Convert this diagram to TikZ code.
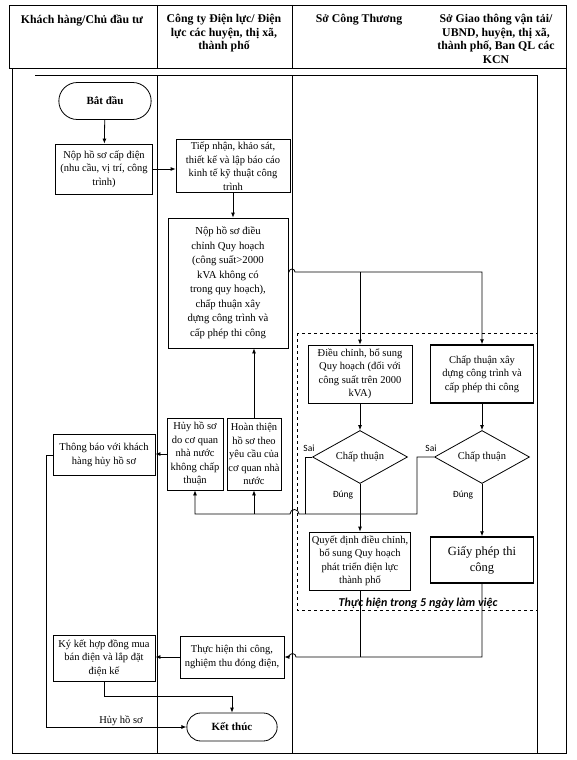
\documentclass[tikz,border=0pt]{standalone}
\usepackage{fontspec}
\setmainfont{Liberation Serif}
\newfontfamily\calib{Carlito}
\usetikzlibrary{arrows.meta,shapes.geometric,shapes.misc}
\tikzset{/DL/box/.style={
	draw, line width=0.8pt, align=center, inner sep=1pt, font=\fontsize{10.5}{13.5}\selectfont
}}
\tikzset{/DL/heavy/.style={
	line width=1.5pt
}}
\tikzset{/DL/term/.style={
	draw, line width=0.8pt, shape=rounded rectangle, minimum width=99pt, minimum height=37pt, font=\bfseries\fontsize{11}{13}\selectfont
}}
\tikzset{/DL/ask/.style={
	draw, line width=0.8pt, shape=diamond, aspect=1.8, inner sep=0pt, minimum width=95pt, minimum height=53pt, font=\fontsize{10.5}{12}\selectfont
}}
\tikzset{/DL/head/.style={
	align=center, anchor=north, font=\bfseries\fontsize{11.8}{13.5}\selectfont
}}
\tikzset{/DL/note/.style={
	font=\calib\fontsize{9.5}{11}\selectfont, inner sep=1pt
}}
\tikzset{/DL/line/.style={
	line width=0.8pt
}}
\tikzset{/DL/flow/.style={
	line width=0.8pt, -{Latex[length=5pt,width=4pt]}
}}

\begin{document}
\begin{tikzpicture}[x=1pt, y=-1pt]
			\useasboundingbox (0,0) rectangle (576,760);
			\draw[/DL/line] (9,5) rectangle (566,68);
			\draw[/DL/line] (157,5) -- (157,68) (292,5) -- (292,68);
			\draw[/DL/line] (12,68) rectangle (566,753);
			\draw[/DL/line] (35,75) -- (537,75) -- (537,753);
			\draw[/DL/line] (157,75) -- (157,753) (292,75) -- (292,753);
			\draw[dashed, line width=0.7pt] (297,333) rectangle (537,610);
			\path (82,11) node[/DL/head] (h1) {Khách hàng/Chủ đầu tư};
			\path (224,11) node[/DL/head] (h2) {Công ty Điện lực/ Điện\\lực các huyện, thị xã,\\thành phố};
			\path (359,11) node[/DL/head] (h3) {Sở Công Thương};
			\path (496,11) node[/DL/head] (h4) {Sở Giao thông vận tải/\\UBND, huyện, thị xã,\\thành phố, Ban QL các\\KCN};
			\path (105,101) node[/DL/term] (start) {Bắt đầu};
			\path (104,169) node[/DL/box, minimum width=97pt, minimum height=50pt] (apply) {Nộp hồ sơ cấp điện\\(nhu cầu, vị trí, công\\trình)};
			\path (233,166) node[/DL/box, minimum width=114pt, minimum height=53pt] (survey) {Tiếp nhận, khảo sát,\\thiết kế và lập báo cáo\\kinh tế kỹ thuật công\\trình};
			\path (228,283) node[/DL/box, minimum width=120pt, minimum height=130pt, font=\fontsize{10.7}{14.5}\selectfont] (dossier) {Nộp hồ sơ điều\\chỉnh Quy hoạch\\(công suất>2000\\kVA không có\\trong quy hoạch),\\chấp thuận xây\\dựng công trình và\\cấp phép thi công};
			\path (360,374) node[/DL/box, minimum width=104pt, minimum height=58pt] (adjust) {Điều chỉnh, bổ sung\\Quy hoạch (đối với\\công suất trên 2000\\kVA)};
			\path (482,374) node[/DL/box, /DL/heavy, minimum width=103pt, minimum height=58pt] (permit) {Chấp thuận xây\\dựng công trình và\\cấp phép thi công};
			\path (360,457) node[/DL/ask] (ok1) {Chấp thuận};
			\path (482,457) node[/DL/ask] (ok2) {Chấp thuận};
			\path (360,561) node[/DL/box, minimum width=101pt, minimum height=58pt] (decide) {Quyết định điều chỉnh,\\bổ sung Quy hoạch\\phát triển điện lực\\thành phố};
			\path (482,560) node[/DL/box, /DL/heavy, minimum width=103pt, minimum height=46pt, font=\fontsize{12.5}{16}\selectfont] (licence) {Giấy phép thi\\công};
			\path (195,454) node[/DL/box, minimum width=56pt, minimum height=72pt] (reject) {Hủy hồ sơ\\do cơ quan\\nhà nước\\không chấp\\thuận};
			\path (254,454) node[/DL/box, minimum width=54pt, minimum height=72pt] (amend) {Hoàn thiện\\hồ sơ theo\\yêu cầu của\\cơ quan nhà\\nước};
			\path (104,455) node[/DL/box, minimum width=102pt, minimum height=41pt] (notify) {Thông báo với khách\\hàng hủy hồ sơ};
			\path (232,657) node[/DL/box, minimum width=104pt, minimum height=42pt] (build) {Thực hiện thi công,\\nghiệm thu đóng điện,};
			\path (104,658) node[/DL/box, minimum width=102pt, minimum height=46pt] (sign) {Ký kết hợp đồng mua\\bán điện và lắp đặt\\điện kế};
			\path (232,727) node[/DL/term, minimum width=97pt, minimum height=28pt] (finish) {Kết thúc};
			\path (309,448) node[/DL/note] (no1) {Sai};
			\path (431,448) node[/DL/note] (no2) {Sai};
			\path (343,495) node[/DL/note] (yes1) {Đúng};
			\path (463,495) node[/DL/note] (yes2) {Đúng};
			\path (418,603) node[font=\calib\bfseries\itshape\fontsize{12}{14}\selectfont] (limit) {Thực hiện trong 5 ngày làm việc};
			\path (121,721) node[font=\fontsize{10.5}{12}\selectfont] (cancel) {Hủy hồ sơ};
			\draw[/DL/flow] (start) -- (apply);
			\draw[/DL/flow] (apply.east) -- (apply.east -| survey.west);
			\draw[/DL/flow] (survey.south) -- (survey.south |- dossier.north);
			\draw[/DL/flow] ([yshift=11pt]dossier.east) -- (289,272) arc[start angle=180, end angle=360, radius=3] -| (permit.north);
			\draw[/DL/flow] (adjust.north |- 0,272) -- (adjust.north);
			\draw[/DL/flow] (adjust) -- (ok1);
			\draw[/DL/flow] (permit) -- (ok2);
			\draw[/DL/flow] (ok1) -- (decide);
			\draw[/DL/flow] (ok2) -- (licence);
			\draw[/DL/line] (ok1.west) -- (305,457) -- (305,514);
			\draw[/DL/flow] (ok2.west) -- (417,457) -- (417,514) -- (299,514) arc[start angle=0, end angle=-180, radius=4.5] -| (reject.south);
			\draw[/DL/flow] (amend.south |- 0,514) -- (amend.south);
			\draw[/DL/flow] (amend.north) -- (amend.north |- dossier.south);
			\draw[/DL/flow] (reject.west) -- (reject.west -| notify.east);
			\draw[/DL/flow] (notify.west) -- ++(-6,0) |- (finish.west);
			\draw[/DL/line] (decide.south) -- (decide.south |- 0,657);
			\draw[/DL/flow] (licence.south) -- (licence.south |- 0,657) -- (296,657) arc[start angle=0, end angle=-180, radius=3.5] -- (build.east);
			\draw[/DL/flow] (build.west) -- (build.west -| sign.east);
			\draw[/DL/flow] (sign.south) -- (sign.south |- 0,696) -| (finish.north);
		\end{tikzpicture}
\end{document}
